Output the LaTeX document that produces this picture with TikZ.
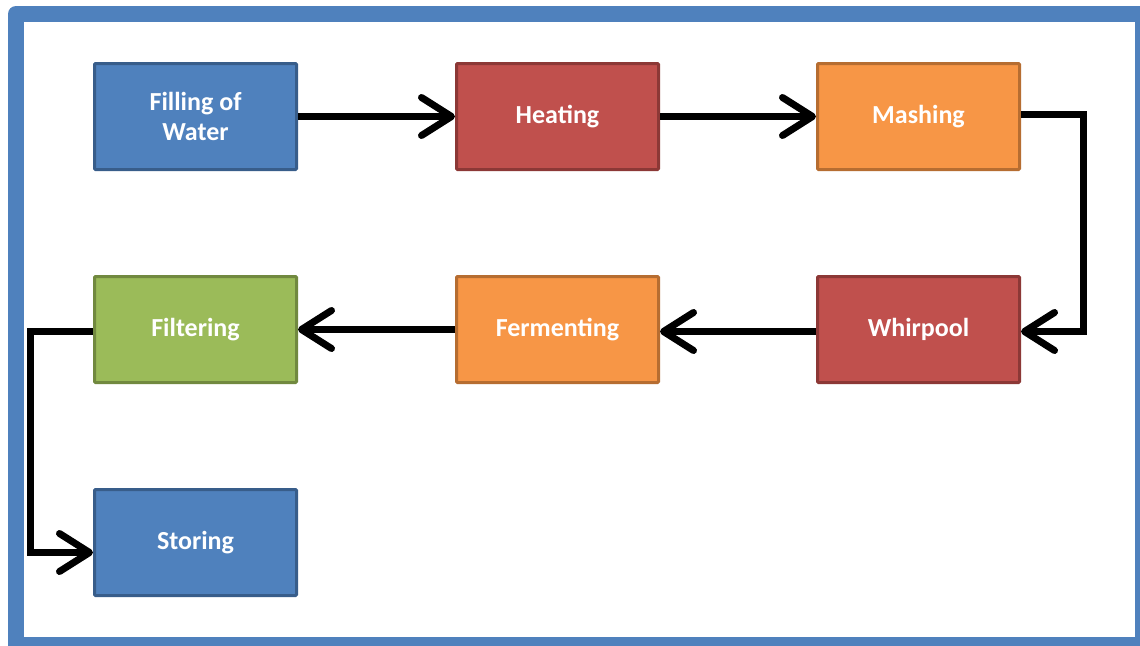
\documentclass[tikz,border=0pt]{standalone}
\usepackage{fontspec}
\setsansfont{Carlito}
\usetikzlibrary{arrows.meta}

\definecolor{frameblue}{HTML}{4F81BD}
\definecolor{boxblue}{HTML}{4F81BD}
\definecolor{lineblue}{HTML}{385D8A}
\definecolor{boxred}{HTML}{C0504D}
\definecolor{linered}{HTML}{8C3836}
\definecolor{boxorange}{HTML}{F79646}
\definecolor{lineorange}{HTML}{B66D31}
\definecolor{boxgreen}{HTML}{9BBB59}
\definecolor{linegreen}{HTML}{71893F}

\begin{document}
\begin{tikzpicture}[x=1pt, y=-1pt, font=\sffamily\bfseries\fontsize{26}{30}\selectfont]
 % --- 各パーツのスタイルを定義 ---
 \tikzset{
    stage/.style={
        rectangle,
        line width=3pt,
        text=white,
        align=center,
        minimum width=202pt,
        minimum height=106pt,
        rounded corners=1pt
    },
    bluestage/.style={stage, draw=lineblue, fill=boxblue},
    redstage/.style={stage, draw=linered, fill=boxred},
    orangestage/.style={stage, draw=lineorange, fill=boxorange},
    greenstage/.style={stage, draw=linegreen, fill=boxgreen},
    flow/.style={
        line width=7pt,
        black,
        -{Straight Barb[length=30pt, width=38pt, round]}
    }
 }

 % --- 枠と背景 ---
 \useasboundingbox (0,0) rectangle (1140,645);
 \fill[white] (0,0) rectangle (1140,645);
 \fill[frameblue, rounded corners=8pt] (8,6) rectangle (1160,665);
 \fill[white] (24,22) rectangle (1135,637);

 % --- 工程を配置 ---
 % 上段
 \node[bluestage] (Filling) at (195.5,116.5) {Filling of\\Water};
 \node[redstage] (Heating) at (557.5,116.5) {Heating};
 \node[orangestage] (Mashing) at (918.5,116.5) {Mashing};

 % 中段
 \node[greenstage] (Filtering) at (195.5,329.5) {Filtering};
 \node[orangestage] (Fermenting) at (557.5,329.5) {Fermenting};
 \node[redstage] (Whirpool) at (918.5,329.5) {Whirpool};

 % 下段
 \node[bluestage] (Storing) at (195.5,542.5) {Storing};

 % --- 矢印を描画 ---
 \draw[flow] (Filling.east) -- (Heating.west);
 \draw[flow] (Heating.east) -- (Mashing.west);

 % 右側の折り返し
 \draw[flow] ([yshift=2pt]Mashing.east) -- ++(62,0) |- ([yshift=-2pt]Whirpool.east);

 \draw[flow] ([yshift=-2pt]Whirpool.west) -- ([yshift=-2pt]Fermenting.east);
 \draw[flow] (Fermenting.west) -- (Filtering.east);

 % 左側の折り返し
 \draw[flow] ([yshift=-2pt]Filtering.west) -- ++(-63,0) |- ([yshift=-10pt]Storing.west);
\end{tikzpicture}
\end{document}
